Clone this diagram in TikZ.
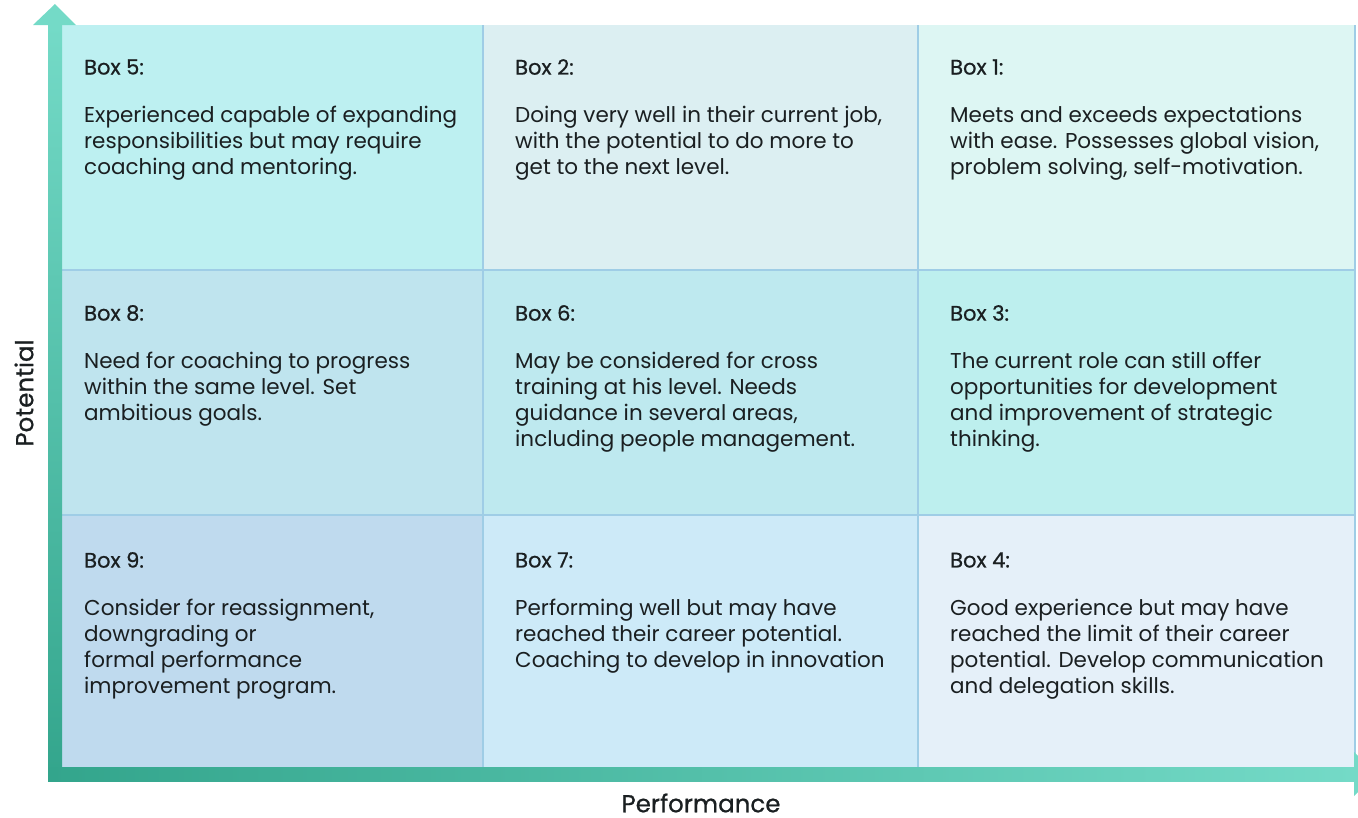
\documentclass[tikz,border=0pt]{standalone}
\usepackage{fontspec}
\setmainfont{Poppins}
\usetikzlibrary{positioning}
\definecolor{gridline}{HTML}{9FCDE6}
\definecolor{ink}{HTML}{1A1F21}
\definecolor{axisdark}{HTML}{33A58C}
\definecolor{axislight}{HTML}{74DAC7}
\definecolor{cfive}{HTML}{BDF0F1}
\definecolor{ctwo}{HTML}{DCEFF2}
\definecolor{cone}{HTML}{DDF6F3}
\definecolor{ceight}{HTML}{BFE4EE}
\definecolor{csix}{HTML}{BEE9EF}
\definecolor{cthree}{HTML}{BDEFEE}
\definecolor{cnine}{HTML}{BFDAEE}
\definecolor{cseven}{HTML}{CDEAF8}
\definecolor{cfour}{HTML}{E5F0F9}
\begin{document}
\begin{tikzpicture}[x=1pt,y=-1pt,
  cell/.style={anchor=north west,inner sep=0pt,outer sep=0pt,minimum height=245pt},
  grid/.style={draw=gridline,line width=1.5pt},
  boxtitle/.style={anchor=west,inner sep=0pt,text=ink,font=\fontsize{21}{24}\selectfont\addfontfeatures{FakeBold=0.7}},
  boxtext/.style={align=left,inner sep=0pt,text=ink,font=\fontsize{21.5}{26}\selectfont},
  axislabel/.style={inner sep=0pt,text=ink,font=\fontsize{24.5}{26}\selectfont\addfontfeatures{FakeBold=0.8}}]
\clip (0,0) rectangle (1358,817);
% cells
\node[cell,fill=cfive,minimum width=421pt] (b5) at (62,25) {};
\node[cell,fill=ctwo,minimum width=435pt] (b2) at (483,25) {};
\node[cell,fill=cone,minimum width=437pt] (b1) at (918,25) {};
\node[cell,fill=ceight,minimum width=421pt] (b8) at (62,270) {};
\node[cell,fill=csix,minimum width=435pt] (b6) at (483,270) {};
\node[cell,fill=cthree,minimum width=437pt] (b3) at (918,270) {};
\node[cell,fill=cnine,minimum width=421pt,minimum height=255pt] (b9) at (62,515) {};
\node[cell,fill=cseven,minimum width=435pt,minimum height=255pt] (b7) at (483,515) {};
\node[cell,fill=cfour,minimum width=437pt,minimum height=255pt] (b4) at (918,515) {};
% grid lines
\draw[grid] (b5.north east) -- (b9.south east);
\draw[grid] (b2.north east) -- (b7.south east);
\draw[grid] (b1.north east) -- (b4.south east);
\draw[grid] (b8.north west) -- (b3.north east);
\draw[grid] (b9.north west) -- (b4.north east);
% titles
\node[boxtitle] (t5) at ([shift={(22,42)}]b5.north west) {Box 5:};
\node[boxtitle] (t2) at ([shift={(32,42)}]b2.north west) {Box 2:};
\node[boxtitle] (t1) at ([shift={(32,42)}]b1.north west) {Box 1:};
\node[boxtitle] (t8) at ([shift={(22,43)}]b8.north west) {Box 8:};
\node[boxtitle] (t6) at ([shift={(32,43)}]b6.north west) {Box 6:};
\node[boxtitle] (t3) at ([shift={(32,43)}]b3.north west) {Box 3:};
\node[boxtitle] (t9) at ([shift={(22,45)}]b9.north west) {Box 9:};
\node[boxtitle] (t7) at ([shift={(32,45)}]b7.north west) {Box 7:};
\node[boxtitle] (t4) at ([shift={(32,45)}]b4.north west) {Box 4:};
% texts
\node[boxtext,below=31pt of t5.south west,anchor=north west] (d5) {Experienced capable of expanding\\responsibilities but may require\\coaching and mentoring.};
\node[boxtext,below=31pt of t2.south west,anchor=north west] (d2) {Doing very well in their current job,\\with the potential to do more to\\get to the next level.};
\node[boxtext,below=31pt of t1.south west,anchor=north west] (d1) {Meets and exceeds expectations\\with ease. Possesses global vision,\\problem solving, self-motivation.};
\node[boxtext,below=31pt of t8.south west,anchor=north west] (d8) {Need for coaching to progress\\within the same level. Set\\ambitious goals.};
\node[boxtext,below=31pt of t6.south west,anchor=north west] (d6) {May be considered for cross\\training at his level. Needs\\guidance in several areas,\\including people management.};
\node[boxtext,below=31pt of t3.south west,anchor=north west] (d3) {The current role can still offer\\opportunities for development\\and improvement of strategic\\thinking.};
\node[boxtext,below=31pt of t9.south west,anchor=north west] (d9) {Consider for reassignment,\\downgrading or\\formal performance\\improvement program.};
\node[boxtext,below=31pt of t7.south west,anchor=north west] (d7) {Performing well but may have\\reached their career potential.\\Coaching to develop in innovation};
\node[boxtext,below=31pt of t4.south west,anchor=north west] (d4) {Good experience but may have\\reached the limit of their career\\potential. Develop communication\\and delegation skills.};
% axes
\shade[bottom color=axisdark,top color=axislight] (48,25) rectangle (62,781);
\fill[axislight] (33,25) -- (55,4) -- (76,25) -- cycle;
\shade[left color=axisdark,right color=axislight] (48,767) rectangle (1355,781);
\fill[axislight] (1354,752) -- (1376,774) -- (1354,796) -- cycle;
\node[axislabel,rotate=90] (pot) at (24,393) {Potential};
\node[axislabel] (perf) at (701,803) {Performance};
\end{tikzpicture}
\end{document}
